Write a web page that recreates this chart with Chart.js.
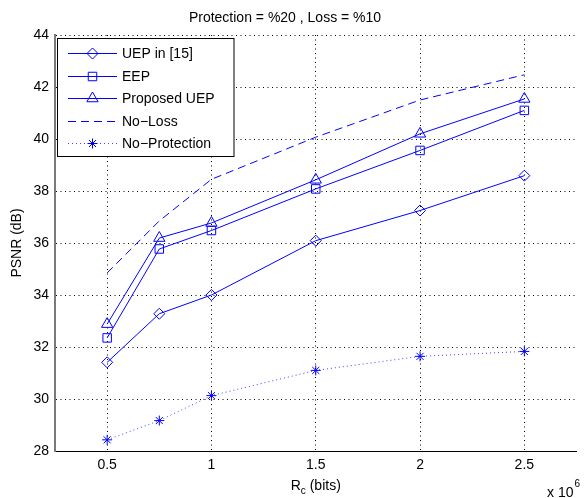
<!DOCTYPE html>
<html>
<head>
<meta charset="utf-8">
<script src="https://cdn.jsdelivr.net/npm/chart.js@4.4.0/dist/chart.umd.min.js"></script>
<style>
  html, body { margin: 0; padding: 0; background: #fff; }
  #wrap { width: 584px; height: 498px; }
</style>
</head>
<body>
<div id="wrap"><canvas id="psnrChart" width="584" height="498"></canvas></div>
<script>
// values (x in units of 10^6 bits)
const rates = [0.5, 0.75, 1, 1.5, 2, 2.5];
const uep15 = [31.41, 33.28, 34.0, 36.09, 37.25, 38.59];
const eep = [32.35, 35.77, 36.48, 38.08, 39.56, 41.1];
const proposedUep = [32.88, 36.19, 36.77, 38.43, 40.2, 41.54];
const noLoss = [34.85, 36.85, 38.45, 40.07, 41.5, 42.47];
const noProtection = [28.43, 29.17, 30.13, 31.1, 31.64, 31.83];

const xTicks = [0.5, 1, 1.5, 2, 2.5];
const yTicks = [28, 30, 32, 34, 36, 38, 40, 42, 44];

const BLUE = 'rgb(0, 0, 255)';
const FONT = '"Liberation Sans", Arial, Helvetica, sans-serif';

function toPoints(values) {
    return rates.map((x, i) => ({ x: x, y: values[i] }));
}

const seriesDefs = [
    { label: 'UEP in [15]', data: uep15, marker: 'rectRot', radius: 5.5, dash: [] },
    { label: 'EEP', data: eep, marker: 'rect', radius: 6, dash: [] },
    { label: 'Proposed UEP', data: proposedUep, marker: 'triangle', radius: 6.5, dash: [] },
    { label: 'No\u2212Loss', data: noLoss, marker: false, radius: 0, dash: [8, 5] },
    { label: 'No\u2212Protection', data: noProtection, marker: 'star', radius: 5, dash: [1, 3] }
];

const datasets = seriesDefs.map(s => ({
    label: s.label,
    data: toPoints(s.data),
    showLine: true,
    borderColor: s.dash.length === 2 && s.dash[0] === 1 ? 'rgba(0, 0, 255, 0.75)' : BLUE,
    borderWidth: 1,
    borderDash: s.dash,
    tension: 0,
    pointStyle: s.marker,
    pointRadius: s.radius,
    pointHoverRadius: s.radius,
    pointBorderColor: BLUE,
    pointBackgroundColor: 'rgba(0, 0, 0, 0)',
    pointBorderWidth: 1
}));

// simple marker drawing for the legend
function drawMarker(ctx, style, x, y, r) {
    ctx.beginPath();
    if (style === 'rectRot') {
        ctx.moveTo(x, y - r); ctx.lineTo(x + r, y); ctx.lineTo(x, y + r); ctx.lineTo(x - r, y); ctx.closePath();
    } else if (style === 'rect') {
        const h = r * Math.SQRT1_2;
        ctx.rect(x - h, y - h, 2 * h, 2 * h);
    } else if (style === 'triangle') {
        ctx.moveTo(x, y - r);
        ctx.lineTo(x + r * 0.866, y + r * 0.5);
        ctx.lineTo(x - r * 0.866, y + r * 0.5);
        ctx.closePath();
    } else if (style === 'star') {
        const d = r * Math.SQRT1_2;
        ctx.moveTo(x - r, y); ctx.lineTo(x + r, y);
        ctx.moveTo(x, y - r); ctx.lineTo(x, y + r);
        ctx.moveTo(x - d, y - d); ctx.lineTo(x + d, y + d);
        ctx.moveTo(x - d, y + d); ctx.lineTo(x + d, y - d);
    } else {
        return;
    }
    ctx.stroke();
}

const decorations = {
    id: 'decorations',
    afterDraw(chart) {
        const ctx = chart.ctx;
        const area = chart.chartArea;
        ctx.save();
        ctx.fillStyle = '#000';

        // title
        ctx.font = '14px ' + FONT;
        ctx.textAlign = 'center';
        ctx.textBaseline = 'alphabetic';
        ctx.fillText('Protection = %20 , Loss = %10', 285, 21.5);

        // x axis title with subscript
        const cx = (area.left + area.right) / 2;
        ctx.textAlign = 'left';
        ctx.font = '14px ' + FONT;
        const wR = ctx.measureText('R').width;
        const wRest = ctx.measureText(' (bits)').width;
        ctx.font = '10px ' + FONT;
        const wc = ctx.measureText('c').width;
        let sx = cx - (wR + wc + wRest) / 2;
        ctx.font = '14px ' + FONT;
        ctx.fillText('R', sx, 490);
        ctx.font = '10px ' + FONT;
        ctx.fillText('c', sx + wR, 494);
        ctx.font = '14px ' + FONT;
        ctx.fillText(' (bits)', sx + wR + wc, 490);

        // exponent label
        ctx.font = '14px ' + FONT;
        ctx.fillText('x 10', 547, 497);
        const w10 = ctx.measureText('x 10').width;
        ctx.font = '10px ' + FONT;
        ctx.fillText('6', 547 + w10 + 1, 487);

        // y axis title
        ctx.save();
        ctx.translate(21, (area.top + area.bottom) / 2);
        ctx.rotate(-Math.PI / 2);
        ctx.font = '14px ' + FONT;
        ctx.textAlign = 'center';
        ctx.fillText('PSNR (dB)', 0, 0);
        ctx.restore();

        // legend
        const box = { x: 57.5, y: 38.5, w: 176.5, h: 118 };
        ctx.fillStyle = '#fff';
        ctx.fillRect(box.x, box.y, box.w, box.h);
        ctx.strokeStyle = '#000';
        ctx.lineWidth = 1;
        ctx.setLineDash([]);
        ctx.strokeRect(box.x, box.y, box.w, box.h);
        const rowY = [53.3, 75.7, 98.3, 120.7, 143.3];
        seriesDefs.forEach((s, i) => {
            const y = Math.round(rowY[i]) + 0.5;
            ctx.strokeStyle = datasets[i].borderColor;
            ctx.lineWidth = 1;
            ctx.setLineDash(s.dash);
            ctx.beginPath();
            ctx.moveTo(68, y);
            ctx.lineTo(117, y);
            ctx.stroke();
            ctx.setLineDash([]);
            ctx.strokeStyle = BLUE;
            drawMarker(ctx, s.marker, 92.5, y, s.radius);
            ctx.fillStyle = '#000';
            ctx.font = '14px ' + FONT;
            ctx.textAlign = 'left';
            ctx.textBaseline = 'middle';
            ctx.fillText(s.label, 122, y + 1);
        });
        ctx.restore();
    }
};

new Chart(document.getElementById('psnrChart'), {
    type: 'scatter',
    data: { datasets: datasets },
    options: {
        responsive: false,
        animation: false,
        layout: { padding: { top: 35, right: 1, left: 0, bottom: 0 } },
        scales: {
            x: {
                type: 'linear',
                min: 0.25,
                max: 2.75,
                afterBuildTicks: scale => { scale.ticks = xTicks.map(v => ({ value: v })); },
                afterFit: scale => { scale.height = 47; },
                grid: { color: '#000', lineWidth: 1, drawTicks: false },
                border: { display: true, color: '#000', width: 1, dash: [1, 3.5] },
                ticks: {
                    color: '#000',
                    padding: 6,
                    font: { family: FONT, size: 14 },
                    maxRotation: 0,
                    callback: v => String(v)
                }
            },
            y: {
                type: 'linear',
                min: 28,
                max: 44,
                afterBuildTicks: scale => { scale.ticks = yTicks.map(v => ({ value: v })); },
                afterFit: scale => { scale.width = 55; },
                grid: { color: '#000', lineWidth: 1, drawTicks: false },
                border: { display: true, color: '#7a7a7a', width: 2, dash: [1, 3.5] },
                ticks: {
                    color: '#000',
                    padding: 6,
                    font: { family: FONT, size: 14 },
                    callback: v => String(v)
                }
            }
        },
        plugins: {
            legend: { display: false },
            tooltip: { enabled: false },
            title: { display: false }
        }
    },
    plugins: [decorations]
});
</script>
</body>
</html>
